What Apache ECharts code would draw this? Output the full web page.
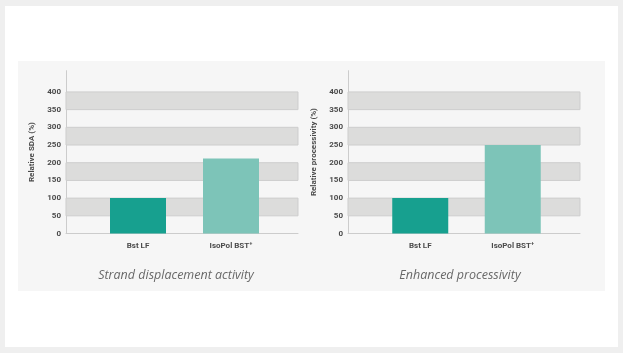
<!DOCTYPE html>
<html>
<head>
<meta charset="utf-8">
<script src="https://cdn.jsdelivr.net/npm/echarts@6/dist/echarts.min.js"></script>
<style>
  html, body { margin: 0; padding: 0; background: #efefef; }
  #frame { position: absolute; left: 5px; top: 6px; width: 613px; height: 341px; background: #ffffff; }
  #panel { position: absolute; left: 18px; top: 61px; width: 587px; height: 230px; background: #f6f6f6; }
  #chart { position: absolute; left: 0; top: 0; width: 623px; height: 353px; }
</style>
</head>
<body>
<div id="frame"></div>
<div id="panel"></div>
<div id="chart"></div>
<script>
// data
const categories = ["Bst LF", "IsoPol BST\u207A"];
const sdaValues = [100, 212];
const processivityValues = [100, 250];
const barColors = ["#17a08f", "#7dc4b8"];
const grayBands = [[50, 100], [150, 200], [250, 300], [350, 400]];
const chartTitles = ["Strand displacement activity", "Enhanced processivity"];
const axisNames = ["Relative SDA (%)", "Relative processivity (%)"];

const yMax = 460;
const plotTop = 70.7;
const plotHeight = 162.8;

let myChart = echarts.init(document.getElementById("chart"));

function bandSeries(idx) {
  return {
    type: "line",
    xAxisIndex: idx,
    yAxisIndex: idx,
    data: [],
    silent: true,
    markArea: {
      silent: true,
      itemStyle: { color: "#dcdcdb", borderColor: "#cdcdcd", borderWidth: 1 },
      data: grayBands.map(b => [{ yAxis: b[0], xAxis: 0 }, { yAxis: b[1], xAxis: 1 }]),
    },
  };
}

function barSeries(idx, values) {
  return {
    type: "bar",
    xAxisIndex: idx,
    yAxisIndex: idx,
    barWidth: 56,
    data: values.map((v, i) => ({ value: v, itemStyle: { color: barColors[i] } })),
  };
}

function bgYAxis(gridIndex, name) {
  return {
    type: "value",
    gridIndex: gridIndex,
    min: 0,
    max: yMax,
    interval: 50,
    name: name,
    nameLocation: "middle",
    nameGap: 30,
    nameTextStyle: { color: "#4a4a4a", fontSize: 8, fontWeight: "bold", fontFamily: "Roboto" },
    axisLine: { show: true, lineStyle: { color: "#cccccc", width: 1 } },
    axisTick: { show: false },
    splitLine: { show: false },
    axisLabel: {
      margin: 5,
      color: "#4a4a4a",
      fontSize: 8,
      fontWeight: "bold",
      fontFamily: "Roboto",
      formatter: v => (v <= 400 ? String(v) : ""),
    },
  };
}

function barYAxis(gridIndex) {
  return { type: "value", gridIndex: gridIndex, min: 0, max: yMax, show: false };
}

function bgXAxis(gridIndex) {
  return {
    type: "value",
    gridIndex: gridIndex,
    min: 0,
    max: 1,
    axisLine: { show: true, onZero: false, lineStyle: { color: "#cccccc", width: 1 } },
    axisTick: { show: false },
    axisLabel: { show: false },
    splitLine: { show: false },
  };
}

function barXAxis(gridIndex) {
  return {
    type: "category",
    gridIndex: gridIndex,
    data: categories,
    axisLine: { show: false },
    axisTick: { show: false },
    axisLabel: { margin: 8, color: "#4a4a4a", fontSize: 8, fontWeight: "bold", fontFamily: "Roboto" },
  };
}

const titleStyle = { color: "#686868", fontSize: 12.5, fontStyle: "italic", fontWeight: "normal", fontFamily: "Open Sans" };

let option = {
  animation: false,
  title: [
    { text: chartTitles[0], left: 171, top: 264, textAlign: "center", textStyle: titleStyle },
    { text: chartTitles[1], left: 455, top: 264, textAlign: "center", textStyle: titleStyle },
  ],
  grid: [
    { left: 66, width: 232, top: plotTop, height: plotHeight },   // left background
    { left: 91.5, width: 186, top: plotTop, height: plotHeight }, // left bars
    { left: 348, width: 232, top: plotTop, height: plotHeight },  // right background
    { left: 374, width: 185, top: plotTop, height: plotHeight },  // right bars
  ],
  xAxis: [bgXAxis(0), barXAxis(1), bgXAxis(2), barXAxis(3)],
  yAxis: [bgYAxis(0, axisNames[0]), barYAxis(1), bgYAxis(2, axisNames[1]), barYAxis(3)],
  series: [
    bandSeries(0),
    barSeries(1, sdaValues),
    bandSeries(2),
    barSeries(3, processivityValues),
  ],
};
myChart.setOption(option);
</script>
</body>
</html>
